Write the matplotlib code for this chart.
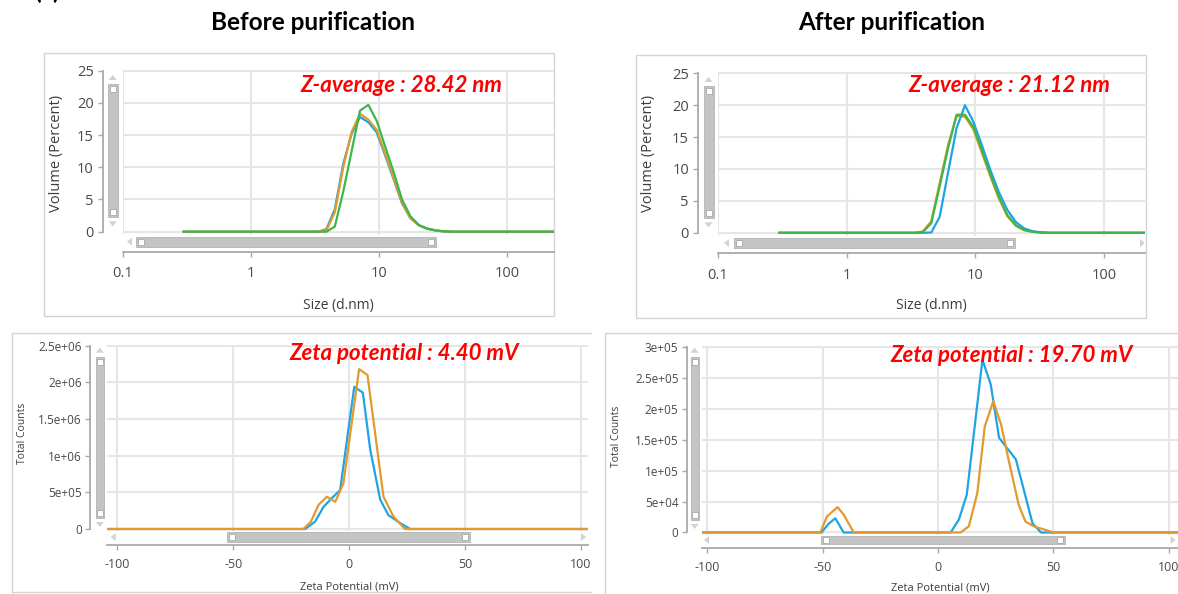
import matplotlib
matplotlib.use("Agg")
import matplotlib.pyplot as plt
from matplotlib.patches import Rectangle, Polygon
from matplotlib.ticker import NullLocator

# ---- data ----
# DLS size distribution (volume %), size bins in d.nm
size_nm = [0.3, 3.36, 3.90, 4.54, 5.28, 6.14, 7.14, 8.30, 9.65, 11.2, 13.1, 15.2,
           17.7, 20.6, 23.9, 27.8, 32.3, 37.6, 10000]

before_blue = [0, 0, 0.4, 3.5, 10.5, 15.2, 17.8, 17.0, 15.4, 11.9, 8.1, 4.4, 2.1, 1.0, 0.45, 0.2, 0.05, 0, 0]
before_orange = [0, 0, 0.2, 3.0, 10.0, 15.5, 18.3, 17.4, 15.8, 12.2, 8.3, 4.5, 2.1, 1.0, 0.45, 0.2, 0.05, 0, 0]
before_green = [0, 0, 0, 0.8, 6.2, 12.5, 18.8, 19.7, 17.2, 13.3, 9.2, 5.0, 2.4, 1.0, 0.5, 0.2, 0.05, 0, 0]

after_blue = [0, 0, 0, 0.05, 2.5, 9.5, 16.4, 20.0, 17.4, 13.8, 9.8, 6.4, 3.6, 1.7, 0.7, 0.25, 0.08, 0, 0]
after_orange = [0, 0, 0.2, 1.8, 7.8, 13.8, 18.3, 18.2, 16.2, 12.6, 8.8, 5.4, 2.6, 1.1, 0.4, 0.15, 0.05, 0, 0]
after_green = [0, 0, 0.1, 1.5, 7.3, 13.3, 18.5, 18.5, 16.6, 13.0, 9.1, 5.7, 2.8, 1.2, 0.45, 0.15, 0.05, 0, 0]

# zeta potential distributions (total counts)
zb_blue_x = [-104, -19.0, -14.7, -11.1, -7.5, -3.9, 2.2, 5.9, 9.1, 13.4, 16.9, 22.0, 26.3, 104]
zb_blue_y = [0, 0, 1.0e5, 3.0e5, 4.2e5, 5.3e5, 1.94e6, 1.86e6, 1.08e6, 4.0e5, 1.9e5, 8e4, 0, 0]
zb_orange_x = [-104, -19.7, -16.5, -13.2, -9.6, -6.0, -2.5, 4.3, 7.9, 14.8, 19.1, 24.1, 104]
zb_orange_y = [0, 0, 1.0e5, 3.3e5, 4.4e5, 3.7e5, 6.2e5, 2.18e6, 2.10e6, 4.4e5, 1.7e5, 0, 0]

za_blue_x = [-104, -50.5, -47.4, -44.5, -40.9, 5.5, 9.1, 12.5, 15.9, 19.3, 22.9, 26.5, 33.8, 41.0, 44.7, 104]
za_blue_y = [0, 0, 1.4e4, 2.3e4, 0, 0, 2.1e4, 6.1e4, 1.7e5, 2.79e5, 2.39e5, 1.53e5, 1.18e5, 1.5e4, 0, 0]
za_orange_x = [-104, -51.0, -48.1, -43.5, -40.9, -36.5, 9.8, 13.4, 17.1, 20.3, 24.0, 27.4, 30.6, 35.0, 37.9, 41.5, 50.3, 104]
za_orange_y = [0, 0, 2.6e4, 4.1e4, 2.9e4, 0, 0, 1.0e4, 6.4e4, 1.71e5, 2.12e5, 1.74e5, 1.18e5, 4.5e4, 1.8e4, 1.0e4, 0, 0]

size_ticks = [0.1, 1, 10, 100]
size_ticklabels = ["0.1", "1", "10", "100"]
vol_ticks = [0, 5, 10, 15, 20, 25]
zeta_ticks = [-100, -50, 0, 50, 100]
zb_yticks = [0, 5e5, 1e6, 1.5e6, 2e6, 2.5e6]
zb_yticklabels = ["0", "5e+05", "1e+06", "1.5e+06", "2e+06", "2.5e+06"]
za_yticks = [0, 5e4, 1e5, 1.5e5, 2e5, 2.5e5, 3e5]
za_yticklabels = ["0", "5e+04", "1e+05", "1.5e+05", "2e+05", "2.5e+05", "3e+05"]

BLUE = "#1ea4e4"
ORANGE = "#e29a2c"
GREEN = "#3db64b"
AXFONT = "Open Sans"
TFONT = ["Lato", "DejaVu Sans"]

W, H = 1178, 594
fig = plt.figure(figsize=(W / 100, H / 100), dpi=100)

# overlay in pixel coords for frames, scrollbars and text
deco = fig.add_axes([0, 0, 1, 1], zorder=0)
deco.set_xlim(0, W)
deco.set_ylim(H, 0)
deco.axis("off")


def px_rect(x0, y0, x1, y1):
    return [x0 / W, 1 - y1 / H, (x1 - x0) / W, (y1 - y0) / H]


def make_axes(x0, y0, x1, y1, left_out, bottom_out, tick_fs, ybounds):
    ax = fig.add_axes(px_rect(x0, y0, x1, y1), zorder=2)
    ax.patch.set_alpha(0)
    for s in ["top", "right"]:
        ax.spines[s].set_visible(False)
    ax.spines["left"].set_position(("outward", left_out * 0.72))
    ax.spines["bottom"].set_position(("outward", bottom_out * 0.72))
    ax.spines["left"].set_bounds(*ybounds)
    for s in ["left", "bottom"]:
        ax.spines[s].set_color("#a9a9a9")
        ax.spines[s].set_linewidth(1.3)
    ax.tick_params(axis="both", direction="out", length=3.5, width=1, color="#a9a9a9",
                   labelcolor="#4a4a4a", labelsize=tick_fs)
    ax.grid(True, color="#e6e6e6", lw=1.5)
    ax.set_axisbelow(True)
    return ax


def vscroll(x0, x1, y0, y1):
    cx = (x0 + x1) / 2
    deco.add_patch(Rectangle((x0, y0), x1 - x0, y1 - y0, fc="#c4c4c4", ec="#b9b9b9", lw=0.7))
    deco.add_patch(Rectangle((cx - 3, y0 + 2), 6, 6, fc="white", ec="#a8a8a8", lw=0.6))
    deco.add_patch(Rectangle((cx - 3, y1 - 8), 6, 6, fc="white", ec="#a8a8a8", lw=0.6))
    deco.add_patch(Polygon([[cx - 4, y0 - 4], [cx + 4, y0 - 4], [cx, y0 - 9]], fc="#d2d2d2", ec="none"))
    deco.add_patch(Polygon([[cx - 4, y1 + 4], [cx + 4, y1 + 4], [cx, y1 + 9]], fc="#d2d2d2", ec="none"))


def hscroll(x0, x1, y0, y1, la=None, ra=None):
    cy = (y0 + y1) / 2
    deco.add_patch(Rectangle((x0, y0), x1 - x0, y1 - y0, fc="#c4c4c4", ec="#b9b9b9", lw=0.7))
    deco.add_patch(Rectangle((x0 + 2, cy - 3), 6, 6, fc="white", ec="#a8a8a8", lw=0.6))
    deco.add_patch(Rectangle((x1 - 8, cy - 3), 6, 6, fc="white", ec="#a8a8a8", lw=0.6))
    if la is not None:
        deco.add_patch(Polygon([[la + 2, cy - 4], [la + 2, cy + 4], [la - 3, cy]], fc="#d2d2d2", ec="none"))
    if ra is not None:
        deco.add_patch(Polygon([[ra - 2, cy - 4], [ra - 2, cy + 4], [ra + 3, cy]], fc="#d2d2d2", ec="none"))


def ptext(x, y, s, **kw):
    fig.text(x / W, 1 - y / H, s, ha="center", va="center", **kw)


# panel frames
deco.add_patch(Rectangle((44, 53), 510, 263, fc="none", ec="#d4d4d4", lw=1))
deco.add_patch(Rectangle((636, 55), 510, 263, fc="none", ec="#d4d4d4", lw=1))
deco.plot([11.5, 11.5, 591], [592, 333.3, 333.3], color="#d4d4d4", lw=1)
deco.plot([11.5, 591], [592, 592], color="#d4d4d4", lw=1)
deco.plot([605, 605, 1178], [594, 333.3, 333.3], color="#d4d4d4", lw=1)

# ---- top left: size before ----
ax1 = make_axes(122.7, 69.7, 554, 235, 20, 16.7, 10.5, (0, 25))
ax1.set_xscale("log")
ax1.plot(size_nm, before_blue, color=BLUE, lw=1.6)
ax1.plot(size_nm, before_orange, color=ORANGE, lw=1.6)
ax1.plot(size_nm, before_green, color=GREEN, lw=1.6)
ax1.set_xlim(0.1, 234)
ax1.set_ylim(-(235 - 231.7) / 6.44, 25 + 1 / 6.44)
ax1.set_xticks(size_ticks)
ax1.set_xticklabels(size_ticklabels, family=AXFONT)
ax1.xaxis.set_minor_locator(NullLocator())
ax1.set_yticks(vol_ticks)
ax1.set_yticklabels([str(v) for v in vol_ticks], family=AXFONT)
ax1.tick_params(axis="x", pad=7)
ax1.tick_params(axis="y", pad=3)
vscroll(108, 117.5, 84, 217.3)
hscroll(136.3, 435.8, 236.7, 246.7, la=130)

# ---- top right: size after ----
ax2 = make_axes(718, 72.3, 1145, 236, 20, 17.3, 10.5, (0, 25))
ax2.set_xscale("log")
ax2.plot(size_nm, after_orange, color=ORANGE, lw=1.6)
ax2.plot(size_nm, after_blue, color=BLUE, lw=1.6)
ax2.plot(size_nm, after_green, color=GREEN, lw=1.6)
ax2.set_xlim(0.1, 208)
ax2.set_ylim(-(236 - 232.8) / 6.38, 25 + 1 / 6.38)
ax2.set_xticks(size_ticks)
ax2.set_xticklabels(size_ticklabels, family=AXFONT)
ax2.xaxis.set_minor_locator(NullLocator())
ax2.set_yticks(vol_ticks)
ax2.set_yticklabels([str(v) for v in vol_ticks], family=AXFONT)
ax2.tick_params(axis="x", pad=7)
ax2.tick_params(axis="y", pad=3)
vscroll(703.5, 713.5, 86, 218.3)
hscroll(734, 1014.5, 238, 248, la=727, ra=1142)

# ---- bottom left: zeta before ----
ax3 = make_axes(107.3, 344.7, 588, 531, 17.3, 14, 9, (0, 2.5e6))
ax3.plot(zb_blue_x, zb_blue_y, color=BLUE, lw=1.6)
ax3.plot(zb_orange_x, zb_orange_y, color=ORANGE, lw=1.6)
ax3.set_xlim(-104.3, 103.0)
ax3.set_ylim(-2 / 73.32e-6, 2.5e6 + 1 / 73.32e-6)
ax3.set_xticks(zeta_ticks)
ax3.set_xticklabels([str(v) for v in zeta_ticks], family=AXFONT)
ax3.set_yticks(zb_yticks)
ax3.set_yticklabels(zb_yticklabels, family=AXFONT, fontsize=8.5)
ax3.tick_params(axis="x", pad=6)
ax3.tick_params(axis="y", pad=2.5)
vscroll(95.7, 104, 356.7, 518)
hscroll(226.8, 469.9, 532.3, 541.7, la=113.7, ra=583)

# ---- bottom right: zeta after ----
ax4 = make_axes(701.8, 345.7, 1178, 534.5, 15, 13.8, 9, (0, 3e5))
ax4.plot(za_blue_x, za_blue_y, color=BLUE, lw=1.6)
ax4.plot(za_orange_x, za_orange_y, color=ORANGE, lw=1.6)
ax4.set_xlim(-102.4, 104.1)
ax4.set_ylim(-2 / 61.93e-5, 3e5 + 1 / 61.93e-5)
ax4.set_xticks(zeta_ticks)
ax4.set_xticklabels([str(v) for v in zeta_ticks], family=AXFONT)
ax4.set_yticks(za_yticks)
ax4.set_yticklabels(za_yticklabels, family=AXFONT, fontsize=8.5)
ax4.tick_params(axis="x", pad=6)
ax4.tick_params(axis="y", pad=2.5)
vscroll(690.5, 698.8, 356.7, 520)
hscroll(820.5, 1065, 536, 544, la=707, ra=1172.6)

# axis titles
lab_kw = dict(family=AXFONT, color="#3c3c3c")
ptext(56.7, 153.3, "Volume (Percent)", rotation=90, fontsize=10.5, **lab_kw)
ptext(648.5, 153.3, "Volume (Percent)", rotation=90, fontsize=10.5, **lab_kw)
ptext(338, 305, "Size (d.nm)", fontsize=10, **lab_kw)
ptext(931, 306, "Size (d.nm)", fontsize=10, **lab_kw)
ptext(22.7, 433, "Total Counts", rotation=90, fontsize=7.5, **lab_kw)
ptext(616.3, 436.7, "Total Counts", rotation=90, fontsize=7.5, **lab_kw)
ptext(349, 586.7, "Zeta Potential (mV)", fontsize=8, **lab_kw)
ptext(940, 588.3, "Zeta Potential (mV)", fontsize=8, **lab_kw)

# headings and red notes
ptext(313, 23, "Before purification", fontsize=17.5, weight="bold", family=TFONT, color="black")
ptext(892, 23, "After purification", fontsize=17.5, weight="bold", family=TFONT, color="black")
red_kw = dict(fontsize=16, weight="bold", style="italic", family=TFONT, color="#ff0000")
ptext(401, 85, "Z-average : 28.42 nm", **red_kw)
ptext(1009, 85, "Z-average : 21.12 nm", **red_kw)
ptext(404, 353.5, "Zeta potential : 4.40 mV", **red_kw)
ptext(1012, 355, "Zeta potential : 19.70 mV", **red_kw)

# cut-off panel letter at the very top (only its lower edge is in frame)
fig.text(34 / W, 1 + 1 / H, "(a)", fontsize=17.5, weight="bold", family=TFONT, ha="left", va="baseline")

fig.savefig("out.png", dpi=100)
